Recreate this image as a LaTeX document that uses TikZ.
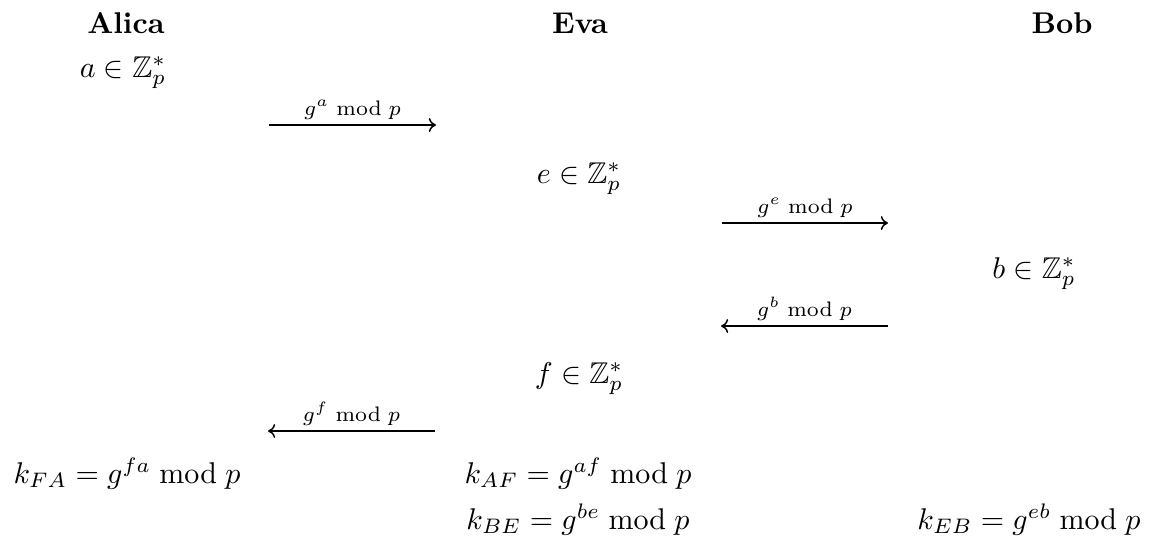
\documentclass[tikz,border=0pt]{standalone}
\usepackage{amsmath,amssymb}
\usetikzlibrary{arrows.meta}
\begin{document}
\begin{tikzpicture}[x=0.33333pt,y=-0.33333pt,
  txt/.style={inner sep=0pt, anchor=base},
  lbl/.style={font=\scriptsize, above=1.6pt, inner sep=0pt},
  msg/.style={-{To[length=2.4pt,width=4.6pt]}, line width=0.5pt}]
\useasboundingbox (0,0) rectangle (1153,541);
% headers
\node[txt, font=\bfseries] (alica) at (126,33) {Alica};
\node[txt, font=\bfseries] (eva) at (580,33) {Eva};
\node[txt, font=\bfseries] (bob) at (1062,33) {Bob};
% secrets
\node[txt] (a) at (123,77) {$a \in \mathbb{Z}_p^*$};
\node[txt] (e) at (579,183) {$e \in \mathbb{Z}_p^*$};
\node[txt] (b) at (1034,278) {$b \in \mathbb{Z}_p^*$};
\node[txt] (f) at (579,383) {$f \in \mathbb{Z}_p^*$};
% keys
\node[txt] (kfa) at (127,483) {$k_{FA} = g^{fa} \bmod p$};
\node[txt] (kaf) at (578,483) {$k_{AF} = g^{af} \bmod p$};
\node[txt] (kbe) at (578,529) {$k_{BE} = g^{be} \bmod p$};
\node[txt] (keb) at (1029,529) {$k_{EB} = g^{eb} \bmod p$};
% messages
\coordinate (m1s) at (269,125); \coordinate (m1e) at (436,125);
\coordinate (m2s) at (722,223); \coordinate (m2e) at (888,223);
\coordinate (m3s) at (888,326); \coordinate (m3e) at (721,326);
\coordinate (m4s) at (435,431); \coordinate (m4e) at (268,431);
\draw[msg] (m1s) -- node[lbl]{$g^a \bmod p$} (m1e);
\draw[msg] (m2s) -- node[lbl]{$g^e \bmod p$} (m2e);
\draw[msg] (m3s) -- node[lbl]{$g^b \bmod p$} (m3e);
\draw[msg] (m4s) -- node[lbl]{$g^f \bmod p$} (m4e);
\end{tikzpicture}
\end{document}
